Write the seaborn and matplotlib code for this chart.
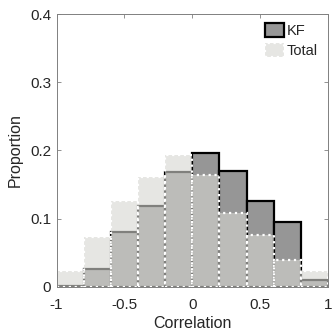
import matplotlib
matplotlib.use('Agg')
import matplotlib.pyplot as plt
import numpy as np
import seaborn as sns
from matplotlib.patches import Patch

sns.set_style('white')
plt.rcParams['font.family'] = ['Liberation Sans', 'DejaVu Sans']

bin_edges = [-1.0, -0.8, -0.6, -0.4, -0.2, 0.0, 0.2, 0.4, 0.6, 0.8, 1.0]
bin_centers = [-0.9, -0.7, -0.5, -0.3, -0.1, 0.1, 0.3, 0.5, 0.7, 0.9]
kf_props = [0.002, 0.026, 0.080, 0.119, 0.169, 0.197, 0.170, 0.126, 0.095, 0.010]
total_props = [0.023, 0.073, 0.126, 0.161, 0.193, 0.164, 0.109, 0.076, 0.039, 0.023]
x_ticks = [-1, -0.5, 0, 0.5, 1]
x_tick_labels = ['-1', '-0.5', '0', '0.5', '1']
y_ticks = [0, 0.1, 0.2, 0.3, 0.4]
y_tick_labels = ['0', '0.1', '0.2', '0.3', '0.4']

kf_face = '#969696'
total_face = (0.84, 0.84, 0.82, 0.6)
axis_gray = '#808080'

fig = plt.figure(figsize=(3.33, 3.34), dpi=100)
ax = fig.add_axes([0.170, 0.141, 0.815, 0.817])

sns.histplot(x=bin_centers, weights=kf_props, bins=bin_edges, ax=ax,
             facecolor=kf_face, edgecolor='black', linewidth=1.6)
sns.histplot(x=bin_centers, weights=total_props, bins=bin_edges, ax=ax,
             facecolor=total_face, edgecolor='white', linewidth=1.6,
             linestyle=':')

ax.set_xlim(-1, 1)
ax.set_ylim(0, 0.4)
ax.set_xticks(x_ticks)
ax.set_xticklabels(x_tick_labels)
ax.set_yticks(y_ticks)
ax.set_yticklabels(y_tick_labels)
ax.tick_params(direction='in', length=3, width=0.6, color=axis_gray,
               labelsize=11, labelcolor='#262626', top=True, right=True,
               bottom=True, left=True, pad=4)
ax.tick_params(axis='x', pad=8)
for s in ax.spines.values():
    s.set_color(axis_gray)
    s.set_linewidth(0.7)

ax.set_xlabel('Correlation', fontsize=11.5, color='#262626', labelpad=3)
ax.set_ylabel('Proportion', fontsize=11.5, color='#262626', labelpad=5)

handles = [Patch(facecolor=kf_face, edgecolor='black', linewidth=1.6),
           Patch(facecolor=(0.90, 0.90, 0.89), edgecolor='white',
                 linewidth=1.6, linestyle=':')]
ax.legend(handles, ['KF', 'Total'], loc='upper right', frameon=False,
          fontsize=10.5, handlelength=1.3, handleheight=1.1,
          handletextpad=0.2, labelspacing=0.35,
          bbox_to_anchor=(1.01, 1.015))

fig.savefig('out.png', dpi=100)
